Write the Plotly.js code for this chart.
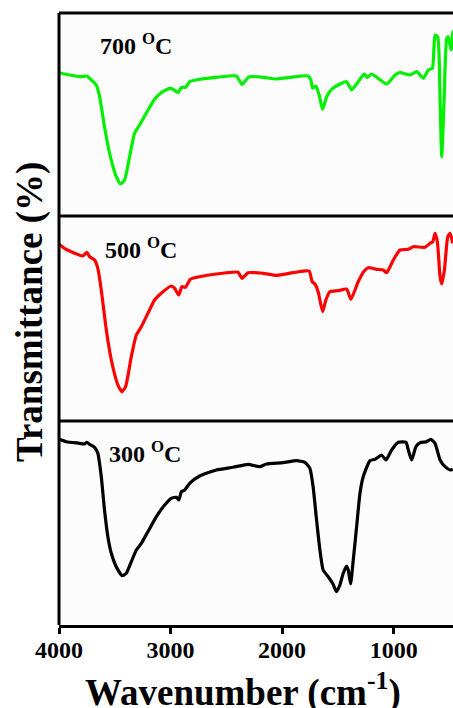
<!DOCTYPE html>
<html>
<head>
<meta charset="utf-8">
<script src="https://cdn.plot.ly/plotly-3.0.1.min.js"></script>
<style>html,body{margin:0;padding:0;background:#fff;}#chart{width:453px;height:708px;}</style>
</head>
<body>
<div id="chart"></div>
<script>
// Wavenumber (cm-1) and transmittance (arb. units) for each calcination temperature
const wn700 = [4000,3906,3801,3750,3726,3666,3636,3592,3547,3487,3448,3412,3367,3322,3277,3217,3143,3083,3008,2978,2934,2903,2864,2829,2739,2589,2409,2386,2359,2296,2170,2050,1931,1766,1742,1727,1697,1668,1637,1601,1556,1497,1422,1377,1318,1264,1237,1197,1138,1063,988,943,854,793,734,689,653,629,605,584,569,548,524,510,485,468,450];
const t700 = [143.3,141,139.3,140,137.7,131,119.3,89.3,63,39.3,32,36,59.3,83,91,103,116.7,123.3,127.7,126.7,123.3,128.7,128.7,134.3,136.7,138.7,140,136,131.7,139.3,138.7,137,138.7,140,136,127.7,130,121,106.7,119.3,126.7,131,134.3,126,134.3,142,138.7,142,137.7,132,141,143.3,141,144.3,137.7,146,147.7,181,179.3,116,59.3,116,177.7,179.3,166,184,186];

const wn500 = [4000,3951,3890,3786,3750,3726,3681,3652,3621,3576,3531,3472,3436,3403,3352,3307,3262,3203,3143,3068,2993,2963,2927,2898,2867,2822,2739,2589,2395,2359,2305,2170,2050,1901,1758,1731,1706,1677,1637,1608,1572,1497,1422,1383,1318,1264,1228,1152,1093,1063,1003,943,869,824,719,674,650,629,608,584,569,545,515,494,470];
const t500 = [176.7,172.7,169.3,165,168.7,164.3,161,152.7,131,91,61,36,29.3,34.3,64.3,86,94.3,107.7,121,129.3,135,132.7,126,134.3,133.7,141.7,144.3,147,148.7,142.7,148.3,147.7,145.7,148.3,150,139.3,137,129.3,109.3,121,129.3,130.3,132,121.7,139.3,150,153.3,151.7,151,148.3,161,171,171.7,174.3,173.7,177.7,179.3,187.7,179.3,144.3,137,151,184.3,187.7,177.7];

const wn300 = [3996,3935,3816,3771,3750,3726,3681,3652,3621,3592,3562,3531,3487,3433,3397,3352,3307,3262,3203,3127,3053,2993,2948,2925,2903,2873,2829,2739,2589,2440,2305,2200,2140,1991,1871,1796,1751,1722,1691,1661,1632,1587,1547,1512,1482,1452,1422,1407,1386,1362,1332,1302,1273,1213,1168,1108,1069,1018,959,889,869,839,800,764,704,668,629,584,539,494,470];
const t300 = [185.7,183.3,181.7,181,182.7,180.7,177.7,171.7,148.3,115,88.3,71.7,58.3,49.3,51.7,63.3,75,81.7,93.3,108.3,120,126.7,127.7,125,133.3,135,141.7,149,155,157.7,160.7,158.3,161,162.3,164.3,162.7,156.7,138.3,105,75,55,48.3,41.7,33.3,40,51.7,59,55,41,65,98.3,131.7,148.3,164.3,165.7,170,165,175,182.7,182.7,175,165,178.3,182.3,183.3,185.7,181.7,165,158.3,155,155.7];

const sampleLabels = ['700 <sup>O</sup>C', '500 <sup>O</sup>C', '300 <sup>O</sup>C'];
const tickVals = [4000, 3000, 2000, 1000];
const tickText = ['4000', '3000', '2000', '1000'];
const xTitle = 'Wavenumber (cm<sup>-1</sup>)';
const yTitle = 'Transmittance (%)';

const FONT = '"Liberation Serif", "Times New Roman", serif';
const lineStyle = (c) => ({color: c, width: 3.2, shape: 'spline', smoothing: 0.5});

const traces = [
  {x: wn300, y: t300, xaxis: 'x', yaxis: 'y', mode: 'lines', line: lineStyle('#000000'), hoverinfo: 'skip'},
  {x: wn500, y: t500, xaxis: 'x', yaxis: 'y2', mode: 'lines', line: lineStyle('#ff0000'), hoverinfo: 'skip'},
  {x: wn700, y: t700, xaxis: 'x', yaxis: 'y3', mode: 'lines', line: lineStyle('#00f000'), hoverinfo: 'skip'}
];

const d1 = 204/612, d2 = 409/612;
const yCommon = {showticklabels: false, ticks: '', showgrid: false, zeroline: false, showline: false, fixedrange: true};

const layout = {
  width: 453, height: 708,
  margin: {l: 59, r: 0, t: 13, b: 83},
  paper_bgcolor: '#ffffff',
  plot_bgcolor: '#fcfcfc',
  showlegend: false,
  font: {family: FONT, color: '#000000'},
  xaxis: {
    range: [4000, 468], tickvals: tickVals, ticktext: tickText,
    ticks: 'outside', ticklen: 6, tickwidth: 3, tickcolor: '#000',
    ticklabelstandoff: -5,
    showline: true, linewidth: 3, linecolor: '#000',
    showgrid: false, zeroline: false,
    tickfont: {family: FONT, size: 24, weight: 'bold', color: '#000'},
    anchor: 'y'
  },
  yaxis: Object.assign({domain: [0, d1], range: [0, 204]}, yCommon),
  yaxis2: Object.assign({domain: [d1, d2], range: [0, 205]}, yCommon),
  yaxis3: Object.assign({domain: [d2, 1], range: [0, 203]}, yCommon),
  shapes: [
    {type: 'line', xref: 'paper', yref: 'paper', x0: 0, x1: 0, y0: 0, y1: 1, line: {color: '#000', width: 3}},
    {type: 'line', xref: 'paper', yref: 'paper', x0: 0, x1: 1, y0: 1, y1: 1, line: {color: '#000', width: 3}},
    {type: 'line', xref: 'paper', yref: 'paper', x0: 0, x1: 1, y0: d2, y1: d2, line: {color: '#000', width: 3}},
    {type: 'line', xref: 'paper', yref: 'paper', x0: 0, x1: 1, y0: d1, y1: d1, line: {color: '#000', width: 3}}
  ],
  annotations: [
    {text: '<b>' + sampleLabels[0] + '</b>', xref: 'paper', yref: 'paper', x: 0.098, y: (625-44)/612, xanchor: 'left', yanchor: 'middle', showarrow: false, font: {family: FONT, size: 24, color: '#000'}},
    {text: '<b>' + sampleLabels[1] + '</b>', xref: 'paper', yref: 'paper', x: 0.112, y: (625-248)/612, xanchor: 'left', yanchor: 'middle', showarrow: false, font: {family: FONT, size: 24, color: '#000'}},
    {text: '<b>' + sampleLabels[2] + '</b>', xref: 'paper', yref: 'paper', x: 0.121, y: (625-452)/612, xanchor: 'left', yanchor: 'middle', showarrow: false, font: {family: FONT, size: 24, color: '#000'}},
    {text: '<b>' + yTitle + '</b>', xref: 'paper', yref: 'paper', x: 0, y: (625-312)/612, xshift: -29, xanchor: 'center', yanchor: 'middle', textangle: -90, showarrow: false, font: {family: FONT, size: 37, color: '#000'}},
    {text: '<b>' + xTitle + '</b>', xref: 'paper', yref: 'paper', x: (243-59)/394, y: (625-690)/612, xanchor: 'center', yanchor: 'middle', showarrow: false, font: {family: FONT, size: 37, color: '#000'}}
  ]
};

Plotly.newPlot('chart', traces, layout, {displayModeBar: false, staticPlot: true});
</script>
</body>
</html>
